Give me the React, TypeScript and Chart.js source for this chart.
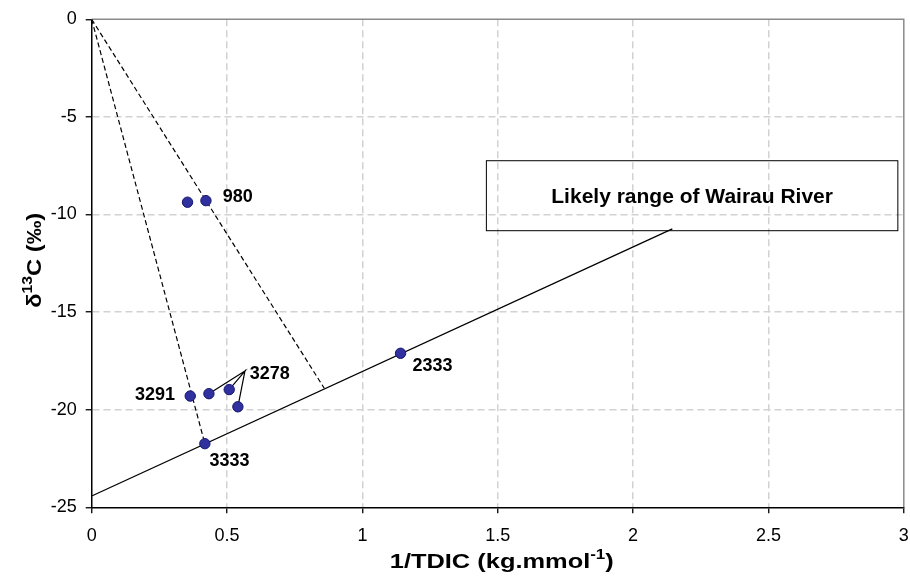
import React, { useEffect, useRef } from "react";
import { Chart, registerables } from "chart.js";

Chart.register(...registerables);

// ---- data ----
const xTickValues = [0, 0.5, 1, 1.5, 2, 2.5, 3];
const xTickLabels = ["0", "0.5", "1", "1.5", "2", "2.5", "3"];
const yTickValues = [-25, -20, -15, -10, -5, 0];
const yTickLabels = ["-25", "-20", "-15", "-10", "-5", "0"];

const sampleX = [0.354, 0.422, 0.364, 0.433, 0.508, 0.54, 0.418, 1.141];
const sampleY = [-9.37, -9.29, -19.3, -19.18, -18.97, -19.85, -21.74, -17.11];

const mixingLineX = [0, 2.145];
const mixingLineY = [-24.42, -10.74];

const dashedLineAX = [0, 0.859];
const dashedLineAY = [0, -18.9];
const dashedLineBX = [0, 0.418];
const dashedLineBY = [0, -21.74];

const calloutApexX = 0.566;
const calloutApexY = -18.02;
const calloutTargets = [3, 4, 5];

const labelTexts = ["980", "3291", "3278", "3333", "2333"];
const labelX = [0.484, 0.16, 0.584, 0.435, 1.185];
const labelY = [-9.12, -19.25, -18.19, -22.63, -17.76];

const boxText = "Likely range of Wairau River";
const boxX = [1.458, 2.978];
const boxY = [-7.245, -10.83];

// ---- style ----
const FONT = "'Liberation Sans', Arial, sans-serif";

type Part = { t: string; s: number; r: number };

function drawRich(
  ctx: CanvasRenderingContext2D,
  parts: Part[],
  cx: number,
  baseY: number,
  targetWidth: number
) {
  let w = 0;
  for (const p of parts) {
    ctx.font = `bold ${p.s}px ${FONT}`;
    w += ctx.measureText(p.t).width;
  }
  const k = targetWidth / w;
  ctx.save();
  ctx.translate(cx, baseY);
  ctx.scale(k, 1);
  let x = -w / 2;
  ctx.textBaseline = "alphabetic";
  ctx.textAlign = "left";
  ctx.fillStyle = "#000";
  for (const p of parts) {
    ctx.font = `bold ${p.s}px ${FONT}`;
    ctx.fillText(p.t, x, -p.r);
    x += ctx.measureText(p.t).width;
  }
  ctx.restore();
}

const decorPlugin = {
  id: "decor",
  beforeDatasetsDraw(chart: any) {
    const { ctx, chartArea } = chart;
    ctx.save();
    ctx.strokeStyle = "#8a8a8a";
    ctx.lineWidth = 1.5;
    ctx.beginPath();
    ctx.moveTo(chartArea.left, chartArea.top);
    ctx.lineTo(chartArea.right, chartArea.top);
    ctx.lineTo(chartArea.right, chartArea.bottom);
    ctx.stroke();
    ctx.restore();
  },
  afterDatasetsDraw(chart: any) {
    const { ctx } = chart;
    const xs = chart.scales.x;
    const ys = chart.scales.y;
    ctx.save();
    // point labels
    ctx.fillStyle = "#000";
    ctx.font = `bold 18px ${FONT}`;
    ctx.textAlign = "left";
    ctx.textBaseline = "middle";
    labelTexts.forEach((t, i) => {
      ctx.fillText(t, xs.getPixelForValue(labelX[i]), ys.getPixelForValue(labelY[i]));
    });
    // text box
    const x1 = xs.getPixelForValue(boxX[0]);
    const x2 = xs.getPixelForValue(boxX[1]);
    const y1 = ys.getPixelForValue(boxY[0]);
    const y2 = ys.getPixelForValue(boxY[1]);
    ctx.strokeStyle = "#000";
    ctx.lineWidth = 1;
    ctx.strokeRect(x1, y1, x2 - x1, y2 - y1);
    ctx.font = `bold 21px ${FONT}`;
    ctx.textAlign = "center";
    ctx.fillText(boxText, (x1 + x2) / 2, (y1 + y2) / 2 + 1);
    ctx.restore();

    // axis titles
    const cx = (chart.chartArea.left + chart.chartArea.right) / 2 + 4;
    drawRich(
      ctx,
      [
        { t: "1/TDIC (kg.mmol", s: 21, r: 0 },
        { t: "-1", s: 14, r: 9 },
        { t: ")", s: 21, r: 0 },
      ],
      cx,
      568,
      224
    );
    ctx.save();
    ctx.translate(41, (chart.chartArea.top + chart.chartArea.bottom) / 2 - 3);
    ctx.rotate(-Math.PI / 2);
    drawRich(
      ctx,
      [
        { t: "δ", s: 21, r: 0 },
        { t: "13", s: 14, r: 9 },
        { t: "C (‰)", s: 21, r: 0 },
      ],
      0,
      0,
      95
    );
    ctx.restore();
  },
};

function pts(xs: number[], ys: number[]) {
  return xs.map((x, i) => ({ x, y: ys[i] }));
}

export default function App() {
  const ref = useRef<HTMLCanvasElement | null>(null);
  useEffect(() => {
    if (!ref.current) return;
    const calloutData: { x: number; y: number }[] = [];
    calloutTargets.forEach((idx) => {
      calloutData.push({ x: calloutApexX, y: calloutApexY });
      calloutData.push({ x: sampleX[idx], y: sampleY[idx] });
    });
    const lineBase = {
      type: "scatter" as const,
      showLine: true,
      pointRadius: 0,
      borderColor: "#000",
      borderWidth: 1.2,
      fill: false,
    };
    const gridColor = (c: any) =>
      c.tick && (c.tick.value === c.scale.min || c.tick.value === c.scale.max)
        ? "rgba(0,0,0,0)"
        : "#d2d2d2";
    const chart = new Chart(ref.current, {
      type: "scatter",
      data: {
        datasets: [
          {
            type: "scatter",
            data: pts(sampleX, sampleY),
            pointRadius: 5.2,
            backgroundColor: "#30309e",
            borderColor: "#151570",
            borderWidth: 1,
          } as any,
          { ...lineBase, data: pts(mixingLineX, mixingLineY), borderWidth: 1.3 } as any,
          { ...lineBase, data: pts(dashedLineAX, dashedLineAY), borderDash: [5, 3] } as any,
          { ...lineBase, data: pts(dashedLineBX, dashedLineBY), borderDash: [5, 3] } as any,
          { ...lineBase, data: calloutData, borderWidth: 1.2 } as any,
        ],
      },
      options: {
        animation: false,
        responsive: false,
        maintainAspectRatio: false,
        layout: { padding: { left: 0, right: 5.7, top: 19.3, bottom: 0 } },
        plugins: { legend: { display: false }, tooltip: { enabled: false } },
        scales: {
          x: {
            type: "linear",
            min: 0,
            max: 3,
            afterBuildTicks: (s: any) => {
              s.ticks = xTickValues.map((v) => ({ value: v }));
            },
            afterFit: (s: any) => {
              s.height = 70.7;
              s.paddingLeft = 0;
              s.paddingRight = 0;
            },
            ticks: {
              color: "#000",
              font: { family: FONT, size: 18 },
              padding: 12,
              maxRotation: 0,
              autoSkip: false,
              callback: (v: any) => {
                const i = xTickValues.indexOf(Number(v));
                return i >= 0 ? xTickLabels[i] : "";
              },
            },
            grid: {
              color: gridColor,
              lineWidth: 1.5,
              tickColor: "#000",
              tickLength: 6,
              tickWidth: 1.3,
            },
            border: { display: true, color: "#000", width: 1.5, dash: [7, 4] },
          },
          y: {
            type: "linear",
            min: -25,
            max: 0,
            afterBuildTicks: (s: any) => {
              s.ticks = yTickValues.map((v) => ({ value: v }));
            },
            afterFit: (s: any) => {
              s.width = 91.7;
              s.paddingTop = 0;
              s.paddingBottom = 0;
            },
            ticks: {
              color: "#000",
              font: { family: FONT, size: 18 },
              padding: 9,
              autoSkip: false,
              callback: (v: any) => {
                const i = yTickValues.indexOf(Number(v));
                return i >= 0 ? yTickLabels[i] : "";
              },
            },
            grid: {
              color: gridColor,
              lineWidth: 1.5,
              tickColor: "#000",
              tickLength: 6,
              tickWidth: 1.3,
            },
            border: { display: true, color: "#000", width: 1.5, dash: [7, 4] },
          },
        },
      } as any,
      plugins: [decorPlugin],
    });
    return () => chart.destroy();
  }, []);
  return (
    <div style={{ position: "absolute", left: 0, top: 0, width: 910, height: 578, background: "#fff" }}>
      <canvas ref={ref} width={910} height={578} style={{ width: 910, height: 578, display: "block" }} />
    </div>
  );
}
